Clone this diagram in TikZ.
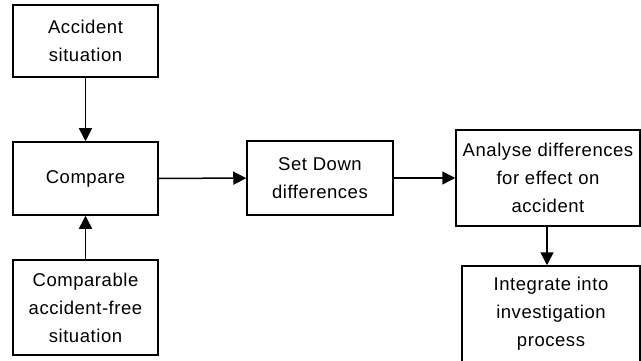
\documentclass[tikz,border=0pt]{standalone}
\usepackage{fontspec}
\setmainfont{Liberation Sans}[LetterSpace=3]
\usetikzlibrary{arrows.meta}
\begin{document}
\begin{tikzpicture}[x=1pt,y=-1pt,
  box/.style={draw=black,line width=1.5pt,rectangle,align=center,inner sep=0pt,
    font=\fontsize{18.5}{28}\selectfont},
  conn/.style={line width=1.5pt,-{Triangle[width=13pt,length=13pt]}}]
\useasboundingbox[fill=white] (0,0) rectangle (641,361);
\node[box,minimum width=145pt,minimum height=72pt] (acc) at (85.5,41) {Accident\\situation};
\node[box,minimum width=145pt,minimum height=73pt] (cmp) at (85.5,178.5) {Compare};
\node[box,minimum width=145pt,minimum height=95pt] (cfree) at (85.5,307.5) {Comparable\\accident-free\\situation};
\node[box,minimum width=146pt,minimum height=74pt] (set) at (320,178) {Set Down\\differences};
\node[box,minimum width=184pt,minimum height=96pt] (ana) at (548,178) {Analyse differences\\for effect on\\accident};
\node[box,minimum width=178pt,minimum height=96pt] (int) at (551,314) {Integrate into\\investigation\\process};
\draw[conn] (acc) -- (cmp);
\draw[conn] (cfree) -- (cmp);
\draw[conn] (cmp) -- (set);
\draw[conn] (set) -- (ana);
\draw[conn] (ana.south) ++(-1,0) coordinate (a1) -- (a1 |- int.north);
\end{tikzpicture}
\end{document}
